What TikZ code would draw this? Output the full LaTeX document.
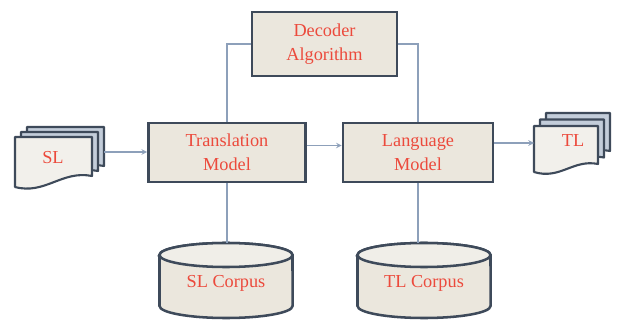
\documentclass[tikz,border=0pt]{standalone}
\usepackage{fontspec}
\setmainfont{Liberation Serif}
\usepackage{xcolor}

\definecolor{boxline}{HTML}{3E4A5A}
\definecolor{boxfill}{HTML}{EBE7DD}
\definecolor{topfill}{HTML}{F0EEE8}
\definecolor{pagefill}{HTML}{F2F0EB}
\definecolor{pageback}{HTML}{C3CDDA}
\definecolor{labelred}{HTML}{EC4A3C}
\definecolor{linkblue}{HTML}{8DA0BA}

\begin{document}
\begin{tikzpicture}[x=0.025cm, y=-0.025cm, >=stealth,
    block/.style={draw=boxline, line width=1.8pt, fill=boxfill, align=center,
      text=labelred, inner sep=0pt, font=\fontsize{13}{17}\selectfont},
    label text/.style={text=labelred, inner sep=0pt, font=\fontsize{13}{17}\selectfont},
    link/.style={draw=linkblue, line width=0.8pt},
    page/.style={draw=boxline, line width=1.5pt, line join=round}]
  \useasboundingbox (0,0) rectangle (617,320);

  % the three model boxes
  \node[block, minimum width=3.625cm, minimum height=1.6cm] (decoder) at (324.5,44) {Decoder\\Algorithm};
  \node[block, minimum width=3.925cm, minimum height=1.475cm] (trans) at (227,152.5) {Translation\\Model};
  \node[block, minimum width=3.75cm, minimum height=1.475cm] (lang) at (418,152.5) {Language\\Model};

  % SL document stack
  \foreach \d in {12,6}
    \draw[page, fill=pageback, shift={(\d,-\d*5/6)}] (15,137) -- (92,137) -- (92,176)
      .. controls (62,170) and (45,195) .. (15,187) -- cycle;
  \draw[page, fill=pagefill] (15,137) -- (92,137) -- (92,176)
    .. controls (62,170) and (45,195) .. (15,187) -- cycle;
  \node[label text] (sl) at (53,158) {SL};
  \coordinate (slout) at (104,152);

  % TL document stack
  \foreach \d in {12,6}
    \draw[page, fill=pageback, shift={(\d,-\d*13/12)}] (534,126) -- (598,126) -- (598,164)
      .. controls (573,159) and (560,180) .. (534,172) -- cycle;
  \draw[page, fill=pagefill] (534,126) -- (598,126) -- (598,164)
    .. controls (573,159) and (560,180) .. (534,172) -- cycle;
  \node[label text] (tl) at (573,141) {TL};
  \coordinate (tlin) at (534,143);

  % corpus cylinders
  \foreach \cx/\nm/\txt in {226/slcorpus/SL Corpus, 424/tlcorpus/TL Corpus} {
    \draw[boxline, line width=1.8pt, fill=boxfill] (\cx-66.5,255) -- (\cx-66.5,306)
      arc[start angle=180, end angle=360, x radius=1.6625cm, y radius=0.3cm]
      -- (\cx+66.5,255) arc[start angle=0, end angle=180, x radius=1.6625cm, y radius=0.3cm] -- cycle;
    \draw[boxline, line width=1.8pt, fill=topfill] (\cx,255) ellipse[x radius=1.6625cm, y radius=0.3cm];
    \node[label text, minimum width=3.325cm, minimum height=2cm] (\nm) at (\cx,283) {\txt};
  }

  % connectors
  \draw[link, ->] (slout) -- (slout -| trans.west);
  \draw[link, ->] ([yshift=0.175cm]trans.east) -- ([yshift=0.175cm]lang.west);
  \draw[link, ->] (lang.east |- tlin) -- (tlin);
  \draw[link] (decoder.west) -| (trans.north);
  \draw[link] (decoder.east) -| (lang.north);
  \draw[link] (trans.south) -- (trans.south |- slcorpus.north);
  \draw[link] (lang.south) -- (lang.south |- tlcorpus.north);
\end{tikzpicture}
\end{document}
